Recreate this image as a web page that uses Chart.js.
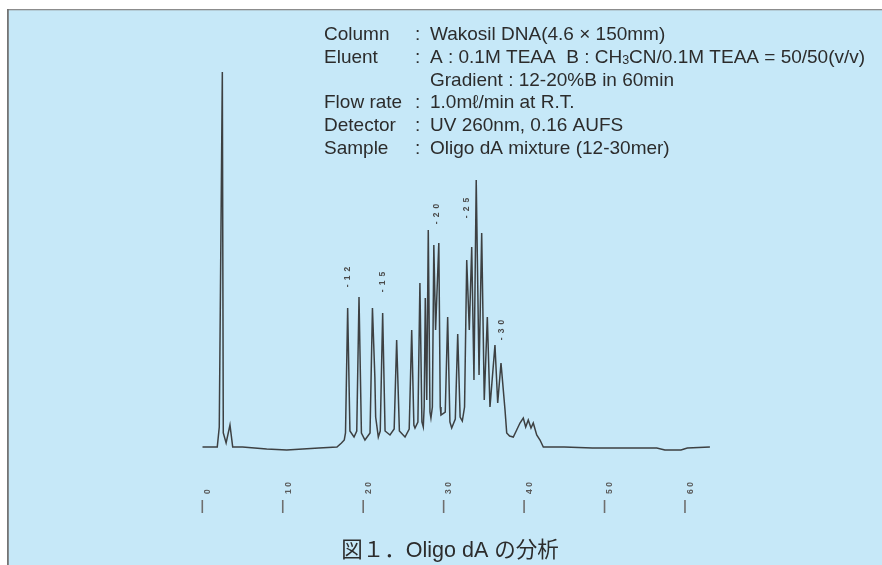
<!DOCTYPE html>
<html>
<head>
<meta charset="utf-8">
<script src="https://cdn.jsdelivr.net/npm/chart.js@4.4.1/dist/chart.umd.min.js"></script>
<style>
  html, body { margin: 0; padding: 0; background: #ffffff; }
  #wrap { width: 882px; height: 565px; }
</style>
</head>
<body>
<div id="wrap"><canvas id="c" width="882" height="565"></canvas></div>
<script>
// ---- data (retention time in min, detector signal in relative units) ----
const times = [0, 1.86, 2.11, 2.49, 2.61, 2.96, 3.44, 3.78, 5.0, 8.0, 10.5, 12.5, 14.5, 16.74, 17.3, 17.65,
  17.8, 18.07, 18.35, 18.86, 19.2, 19.48, 19.78, 20.22, 20.85, 21.15, 21.45, 21.55, 21.88, 22.12,
  22.42, 22.72, 23.33, 23.85, 24.16, 24.5, 25.2, 25.72, 26.03, 26.3, 26.44, 26.8, 27.05, 27.3,
  27.47, 27.58, 27.72, 27.9, 28.09, 28.3, 28.42, 28.6, 28.78, 29.0, 29.4, 29.58, 29.67, 30.2,
  30.5, 30.78, 31.0, 31.45, 31.75, 32.05, 32.32, 32.6, 32.87, 33.19, 33.49, 33.77, 34.05, 34.4,
  34.73, 35.05, 35.43, 35.76, 36.38, 36.72, 37.13, 37.63, 37.84, 38.2, 38.66, 39.08, 39.49, 39.9,
  40.2, 40.52, 40.86, 41.14, 41.57, 41.98, 42.39, 45.0, 48.5, 56.5, 57.5, 59.5, 60.3, 63.1];
const signal = [0, 0, 20, 375, 14, 4, 22, 0, 0, -2, -3, -2, -1, 0, 4, 7,
  14, 139, 16, 10, 16, 150, 14, 7, 14, 139, 70, 30, 10, 16,
  134, 16, 12, 18, 107, 16, 10, 18, 117, 22, 19, 25, 164, 25,
  20, 40, 149, 47, 217, 35, 29, 40, 202, 117, 204, 40, 32, 35,
  130, 25, 19, 28, 113, 30, 26, 40, 187, 117, 200, 67, 267, 72,
  214, 47, 130, 40, 102, 44, 84, 37, 14, 11, 10, 17, 24, 29,
  20, 27, 19, 24, 12, 7, 0, 0, -1, -1, -3, -3, -1, 0];

const tickValues = [0, 10, 20, 30, 40, 50, 60];
const tickLabels = ["0", "10", "20", "30", "40", "50", "60"];

const peakLabels = ["-12", "-15", "-20", "-25", "-30"];
const peakLabelTimes = [18.02, 22.38, 29.13, 32.87, 37.22];
const peakLabelLevels = [172, 167, 235, 241, 119];

const infoLabels = ["Column", "Eluent", "", "Flow rate", "Detector", "Sample"];
const infoValues = [
  "Wakosil DNA(4.6 \u00d7 150mm)",
  "A : 0.1M TEAA  B : CH|3|CN/0.1M TEAA = 50/50(v/v)",
  "Gradient : 12-20%B in 60min",
  "1.0m\u2113/min at R.T.",
  "UV 260nm, 0.16 AUFS",
  "Oligo dA mixture (12-30mer)"
];
const captionText = "図１．Oligo dA の分析";

// ---- plugins ----
const framePlugin = {
  id: 'frame',
  beforeDraw(chart) {
    const ctx = chart.ctx;
    ctx.save();
    ctx.fillStyle = '#ffffff';
    ctx.fillRect(0, 0, 882, 565);
    ctx.fillStyle = '#C6E8F8';
    ctx.fillRect(8, 10, 874, 555);
    ctx.fillStyle = '#8c8c8c';
    ctx.fillRect(7, 9, 875, 1.3);
    ctx.fillStyle = '#747474';
    ctx.fillRect(7, 9, 1.8, 556);
    ctx.restore();
  }
};

const textPlugin = {
  id: 'texts',
  afterDatasetsDraw(chart) {
    const ctx = chart.ctx;
    const xs = chart.scales.x, ys = chart.scales.y;
    ctx.save();
    // info block
    const fam = '"Liberation Sans", Arial, sans-serif';
    ctx.fillStyle = '#2c2c2c';
    ctx.textBaseline = 'alphabetic';
    ctx.textAlign = 'left';
    const base0 = 40, step = 22.8;
    for (let i = 0; i < infoValues.length; i++) {
      const yb = base0 + i * step;
      ctx.font = '19px ' + fam;
      if (infoLabels[i]) {
        ctx.fillText(infoLabels[i], 324, yb);
        ctx.fillText(':', 415, yb);
      }
      const parts = infoValues[i].split('|');
      let x = 430;
      parts.forEach((p, k) => {
        if (k % 2 === 1) {
          ctx.font = '12.5px ' + fam;
          ctx.fillText(p, x, yb + 1);
          x += ctx.measureText(p).width;
        } else {
          ctx.font = '19px ' + fam;
          ctx.fillText(p, x, yb);
          x += ctx.measureText(p).width;
        }
      });
    }
    // caption
    ctx.font = '21.5px "Liberation Sans", "Noto Sans CJK JP", sans-serif';
    ctx.textAlign = 'center';
    ctx.fillStyle = '#2c2c2c';
    ctx.fillText(captionText, 450, 556.5);

    // x tick labels (rotated) and tick marks
    ctx.fillStyle = '#5a5a5a';
    ctx.strokeStyle = '#6e6e6e';
    ctx.lineWidth = 1.6;
    tickValues.forEach((v, i) => {
      const px = xs.getPixelForValue(v);
      ctx.beginPath();
      ctx.moveTo(px, 500);
      ctx.lineTo(px, 513);
      ctx.stroke();
      ctx.save();
      ctx.translate(px + 5.5, 494);
      ctx.rotate(-Math.PI / 2);
      ctx.font = 'bold 8.5px "Liberation Sans", Arial, sans-serif';
      ctx.letterSpacing = '2.5px';
      ctx.textAlign = 'left';
      ctx.textBaseline = 'middle';
      ctx.fillText(tickLabels[i], 0, 0);
      ctx.restore();
    });

    // peak labels (rotated)
    ctx.fillStyle = '#4a4a4a';
    peakLabels.forEach((lab, i) => {
      const px = xs.getPixelForValue(peakLabelTimes[i]);
      const py = ys.getPixelForValue(peakLabelLevels[i]);
      ctx.save();
      ctx.translate(px, py);
      ctx.rotate(-Math.PI / 2);
      ctx.font = 'bold 8.5px "Liberation Sans", Arial, sans-serif';
      ctx.letterSpacing = '4px';
      ctx.textAlign = 'center';
      ctx.textBaseline = 'middle';
      ctx.fillText(lab, 0, 0);
      ctx.restore();
    });
    ctx.restore();
  }
};

new Chart(document.getElementById('c'), {
  type: 'line',
  data: {
    datasets: [{
      data: times.map((t, i) => ({ x: t, y: signal[i] })),
      borderColor: 'rgba(45,45,45,0.9)',
      borderWidth: 1.5,
      pointRadius: 0,
      tension: 0,
      fill: false
    }]
  },
  options: {
    responsive: false,
    devicePixelRatio: 1,
    animation: false,
    events: [],
    layout: { padding: { left: 202.3, right: 156.8, top: 67, bottom: 108 } },
    plugins: { legend: { display: false }, tooltip: { enabled: false }, title: { display: false } },
    scales: {
      x: { type: 'linear', min: 0, max: 65, display: false },
      y: { type: 'linear', min: -10, max: 380, display: false }
    }
  },
  plugins: [framePlugin, textPlugin]
});
</script>
</body>
</html>
